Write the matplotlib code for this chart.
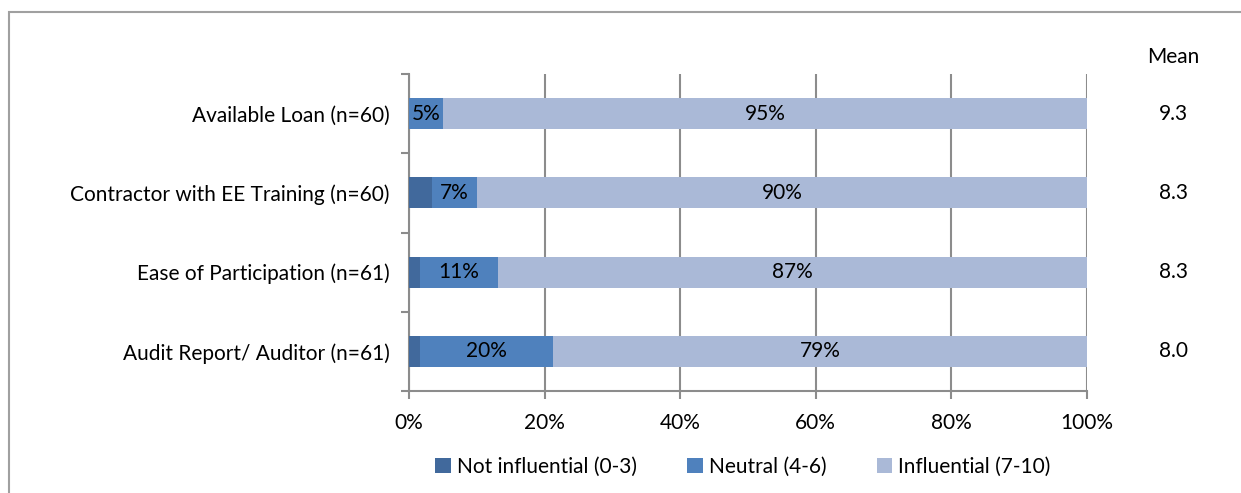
import numpy as np
import matplotlib

matplotlib.use("Agg")
import matplotlib.pyplot as plt
from matplotlib.patches import Rectangle, Patch
from matplotlib.ticker import FixedLocator, PercentFormatter

plt.rcParams["font.family"] = ["Lato", "DejaVu Sans"]

categories = [
    "Available Loan (n=60)",
    "Contractor with EE Training (n=60)",
    "Ease of Participation (n=61)",
    "Audit Report/ Auditor (n=61)",
]
n_resp = [60, 60, 61, 61]
not_influential = [0, 2, 1, 1]
neutral = [3, 4, 7, 12]
influential = [57, 54, 53, 48]
means = [9.3, 8.3, 8.3, 8.0]
series_names = ["Not influential (0-3)", "Neutral (4-6)", "Influential (7-10)"]
colors = ["#41699C", "#4F81BD", "#AAB9D7"]

GRID = "#8C8C8C"
FS = 15

n = np.array(n_resp, float)
shares = [100 * np.array(v, float) / n for v in (not_influential, neutral, influential)]

fig = plt.figure(figsize=(12.41, 4.93), dpi=100)
ax = fig.add_axes([409 / 1241, 1 - 391 / 493, 678 / 1241, 317 / 493])

y = np.arange(len(categories))
left = np.zeros(len(categories))
for k, (vals, col) in enumerate(zip(shares, colors)):
    ax.barh(y, vals, left=left, height=0.39, color=col, zorder=3)
    if k > 0:
        for yi, l, v in zip(y, left, vals):
            ax.text(l + v / 2, yi, f"{v:.0f}%", ha="center", va="center",
                    fontsize=FS, color="black", zorder=4)
    left += vals

ax.set_xlim(0, 100)
ax.set_ylim(len(categories) - 0.5, -0.5)
ax.xaxis.set_major_locator(FixedLocator(np.arange(0, 101, 20)))
ax.xaxis.set_major_formatter(PercentFormatter(decimals=0))
ax.set_yticks(y)
ax.set_yticklabels(categories, fontsize=FS)
ax.yaxis.set_minor_locator(FixedLocator(np.arange(-0.5, len(categories), 1)))
ax.tick_params(axis="y", which="major", length=0, pad=14)
ax.tick_params(axis="y", which="minor", length=6, width=1.5, color=GRID)
ax.tick_params(axis="x", length=6, width=1.5, color=GRID, labelsize=FS, pad=10)
ax.grid(axis="x", color=GRID, lw=1.5, zorder=0)
for side in ("top", "right"):
    ax.spines[side].set_visible(False)
for side in ("left", "bottom"):
    ax.spines[side].set_color(GRID)
    ax.spines[side].set_linewidth(1.5)

# mean column to the right of the bars
ax.text(1.0 + 86 / 678, -0.5 - 17 / 79.25, "Mean", transform=ax.get_yaxis_transform(),
        ha="center", va="center", fontsize=FS)
for yi, m in zip(y, means):
    ax.text(1.0 + 86 / 678, yi, f"{m:.1f}", transform=ax.get_yaxis_transform(),
            ha="center", va="center", fontsize=FS)

handles = [Patch(facecolor=c, edgecolor="none") for c in colors]
fig.legend(handles, series_names, loc="center", bbox_to_anchor=(743 / 1241, 1 - 467 / 493),
           ncol=3, frameon=False, fontsize=FS, handlelength=0.75, handleheight=0.75,
           handletextpad=0.3, columnspacing=2.4)

# outer chart frame
fig.patches.append(Rectangle((9 / 1241, -0.1), 1.2, 1 - 12 / 493 + 0.1, transform=fig.transFigure,
                             fill=False, edgecolor="#A0A0A0", lw=1.5))

fig.savefig("out.png", dpi=100)
